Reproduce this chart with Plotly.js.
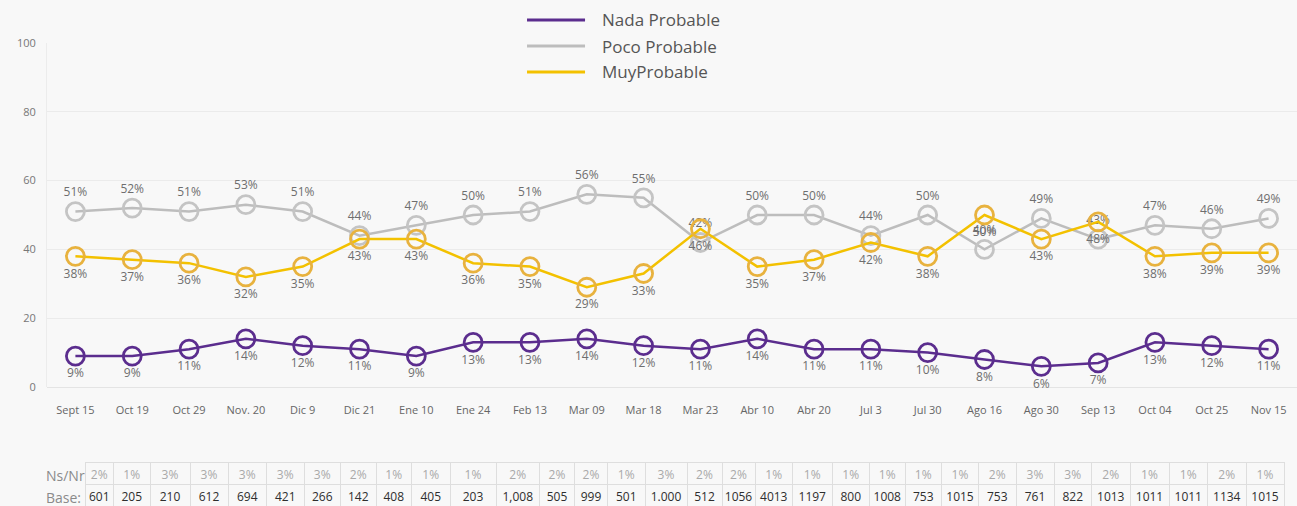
<!DOCTYPE html>
<html>
<head>
<meta charset="utf-8">
<script src="https://cdn.plot.ly/plotly-3.0.1.min.js"></script>
<style>html,body{margin:0;padding:0;background:#f8f8f8;}#chart{width:1297px;height:506px;}</style>
</head>
<body>
<div id="chart"></div>
<script>
// ---- data ----
const categories = ["Sept 15","Oct 19","Oct 29","Nov. 20","Dic 9","Dic 21","Ene 10","Ene 24","Feb 13","Mar 09","Mar 18","Mar 23","Abr 10","Abr 20","Jul 3","Jul 30","Ago 16","Ago 30","Sep 13","Oct 04","Oct 25","Nov 15"];
const seriesNames = ["Nada Probable","Poco Probable","MuyProbable"];
const nada = [9,9,11,14,12,11,9,13,13,14,12,11,14,11,11,10,8,6,7,13,12,11];
const poco = [51,52,51,53,51,44,47,50,51,56,55,42,50,50,44,50,40,49,43,47,46,49];
const muy  = [38,37,36,32,35,43,43,36,35,29,33,46,35,37,42,38,50,43,48,38,39,39];
const yTicks = [0,20,40,60,80,100];
const tableRowLabels = ["Ns/Nr","Base:"];
const nsnr = ["2%","1%","3%","3%","3%","3%","3%","2%","1%","1%","1%","2%","2%","2%","1%","3%","2%","2%","1%","1%","1%","1%","1%","1%","2%","3%","3%","2%","1%","1%","2%","1%"];
const base = ["601","205","210","612","694","421","266","142","408","405","203","1,008","505","999","501","1.000","512","1056","4013","1197","800","1008","753","1015","753","761","822","1013","1011","1011","1134","1015"];

// ---- style ----
const colors = ["#5b2d8e","#bdbdbd","#f3c100"];
const markerLine = ["#5b2d8e","#c4c4c4","#e8b23e"];
const textPos = ["bottom center","top center","bottom center"];
const colWidths = [47,28.5,36.5,40,38,38.5,37.5,36.5,35.5,35.5,38.5,46,43.5,35,33,37.5,42,35,33,37.5,39.5,37.5,35.5,36.5,37,37.5,38,37.5,38.5,39,38.5,38.5,38];
const FONT = "Open Sans, Noto Sans, sans-serif";

const seriesValues = [nada, poco, muy];
const traces = seriesValues.map((vals, i) => ({
  type: "scatter",
  mode: "lines+markers+text",
  x: categories,
  y: vals,
  name: seriesNames[i],
  text: vals.map(v => v + "%"),
  textposition: textPos[i],
  textfont: {family: FONT, size: 12, color: "#6e6e6e"},
  line: {color: colors[i], width: 2.5},
  marker: {symbol: "circle-open", size: 18, color: markerLine[i], line: {width: 2.8, color: markerLine[i]}},
  cliponaxis: false,
  hoverinfo: "skip",
  showlegend: false
}));

// table: first row (Ns/Nr) as header, second row (Base) as cells
const headerValues = [[tableRowLabels[0]]].concat(nsnr.map(n => [n]));
const cellValues = [[tableRowLabels[1]]].concat(base.map(b => [b]));
const lineColors = ["rgba(0,0,0,0)"].concat(nsnr.map(() => "#dedede"));
const aligns = ["left"].concat(nsnr.map(() => "center"));
const hdrColors = ["#8a8a8a"].concat(nsnr.map(() => "#a9a9a9"));
const cellColors = ["#8a8a8a"].concat(nsnr.map(() => "#2e2e2e"));
const fontSizes = [14].concat(nsnr.map(() => 12));
traces.push({
  type: "table",
  domain: {x: [2/1261, 1248/1261], y: [0, 44/463]},
  columnwidth: colWidths,
  header: {
    values: headerValues,
    height: 22,
    align: aligns,
    line: {color: lineColors, width: 1},
    fill: {color: "rgba(0,0,0,0)"},
    font: {family: FONT, size: fontSizes, color: hdrColors}
  },
  cells: {
    values: cellValues,
    height: 22,
    align: aligns,
    line: {color: lineColors, width: 1},
    fill: {color: "rgba(0,0,0,0)"},
    font: {family: FONT, size: fontSizes, color: cellColors}
  }
});

// custom legend (lines only)
const legY = [1.0497, 0.9935, 0.9374];
const shapes = seriesNames.map((n, i) => ({
  type: "line", xref: "paper", yref: "paper",
  x0: 0.3894, x1: 0.4354, y0: legY[i], y1: legY[i],
  line: {color: colors[i], width: 3}
}));
const annotations = seriesNames.map((n, i) => ({
  xref: "paper", yref: "paper", x: 0.4473, y: legY[i],
  xanchor: "left", yanchor: "middle", showarrow: false,
  text: n, font: {family: FONT, size: 17, color: "#555"}
}));

const layout = {
  width: 1297, height: 506,
  margin: {l: 36, r: 0, t: 43, b: 0},
  paper_bgcolor: "#f8f8f8",
  plot_bgcolor: "#f8f8f8",
  showlegend: false,
  xaxis: {
    type: "category", domain: [11/1261, 1], range: [-0.5, 21.5],
    showgrid: false, zeroline: false, showline: false,
    tickfont: {family: FONT, size: 11, color: "#666"},
    ticklabelstandoff: 15, fixedrange: true
  },
  yaxis: {
    domain: [119/463, 1], range: [0, 100],
    tickvals: yTicks, ticktext: yTicks.map(String),
    gridcolor: "#ebebeb", zeroline: true, zerolinecolor: "#e4e4e4",
    showline: true, linecolor: "#ececec",
    tickfont: {family: FONT, size: 11, color: "#777"},
    ticklabelstandoff: 8, fixedrange: true
  },
  shapes: shapes,
  annotations: annotations
};

Plotly.newPlot("chart", traces, layout, {displayModeBar: false, staticPlot: true});
</script>
</body>
</html>
